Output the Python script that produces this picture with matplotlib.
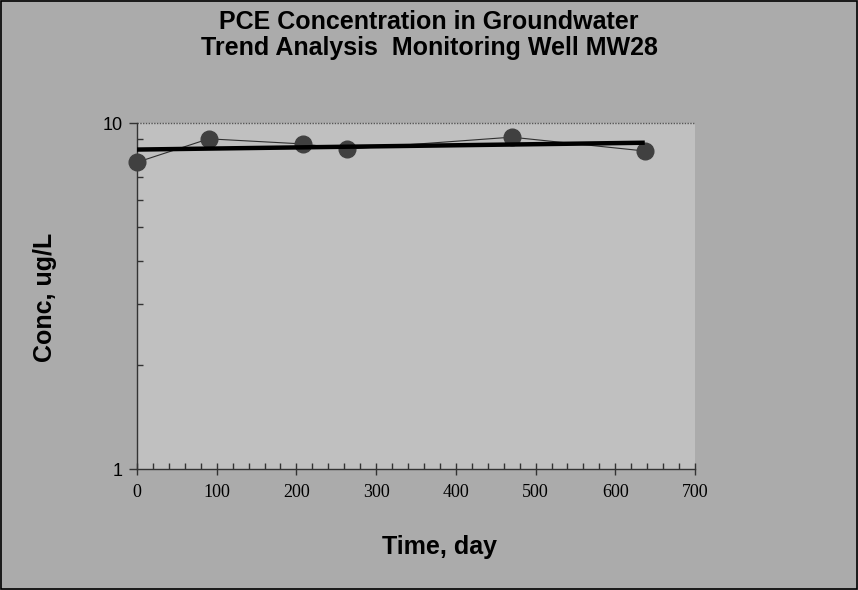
import matplotlib
matplotlib.use("Agg")
import matplotlib.pyplot as plt
from matplotlib.patches import Rectangle
from matplotlib.ticker import LogLocator, NullFormatter, FixedLocator, MultipleLocator

days = [0, 90, 208, 263, 470, 637]
conc = [7.7, 9.0, 8.7, 8.4, 9.1, 8.3]
trend_days = [0, 637]
trend_conc = [8.38, 8.77]
x_ticks = [0, 100, 200, 300, 400, 500, 600, 700]
y_ticks = [1, 10]
y_tick_labels = ["1", "10"]

fig = plt.figure(figsize=(8.58, 5.90), dpi=100)
fig.patch.set_facecolor("#ababab")
fig.patches.append(Rectangle((0.001, 0.001), 0.998, 0.997, transform=fig.transFigure,
                             fill=False, edgecolor="black", linewidth=1.2))

ax = fig.add_axes([137/858, 121/590, (695-137)/858, (469-123)/590])
ax.set_facecolor("#c0c0c0")
ax.set_yscale("log")
ax.set_xlim(0, 700)
ax.set_ylim(1, 10)

ax.plot(days, conc, color="#303030", linewidth=0.8, zorder=3)
ax.plot(days, conc, linestyle="none", marker="o", markersize=12,
        markerfacecolor="#404040", markeredgecolor="#404040", zorder=4, clip_on=False)
ax.plot(trend_days, trend_conc, color="black", linewidth=3.2, zorder=5, solid_capstyle="butt")

ax.axhline(10, color="#555555", linewidth=1, linestyle=(0, (1, 1)), zorder=2, clip_on=False)

for s in ["top", "right"]:
    ax.spines[s].set_visible(False)
for s in ["left", "bottom"]:
    ax.spines[s].set_color("#333333")
    ax.spines[s].set_linewidth(1)

ax.xaxis.set_major_locator(FixedLocator(x_ticks))
ax.xaxis.set_minor_locator(MultipleLocator(20))
ax.yaxis.set_major_locator(FixedLocator(y_ticks))
ax.set_yticklabels(y_tick_labels)
ax.yaxis.set_minor_locator(LogLocator(base=10, subs=range(2, 10)))
ax.yaxis.set_minor_formatter(NullFormatter())

ax.tick_params(axis="x", which="major", direction="inout", length=9, width=1, color="#333333",
               labelsize=13, pad=6)
ax.tick_params(axis="x", which="minor", direction="in", length=4, width=1, color="#333333")
ax.tick_params(axis="y", which="major", direction="out", length=6, width=1, color="#333333",
               labelsize=13, pad=4)
ax.tick_params(axis="y", which="minor", direction="in", length=4, width=1, color="#333333")
for lab in ax.get_xticklabels():
    lab.set_fontfamily("Liberation Serif")
for lab in ax.get_yticklabels():
    lab.set_fontfamily("Liberation Sans")

fig.text(0.5, 1 - 22/590, "PCE Concentration in Groundwater", ha="center", va="center",
         fontsize=18, fontweight="bold", family="Liberation Sans")
fig.text(0.5, 1 - 48/590, "Trend Analysis  Monitoring Well MW28", ha="center", va="center",
         fontsize=18, fontweight="bold", family="Liberation Sans")
fig.text(440/858, 1 - 547/590, "Time, day", ha="center", va="center",
         fontsize=18, fontweight="bold", family="Liberation Sans")
fig.text(45/858, 1 - 297/590, "Conc, ug/L", ha="center", va="center", rotation=90,
         fontsize=18, fontweight="bold", family="Liberation Sans")

fig.savefig("out.png", dpi=100, facecolor=fig.get_facecolor())
